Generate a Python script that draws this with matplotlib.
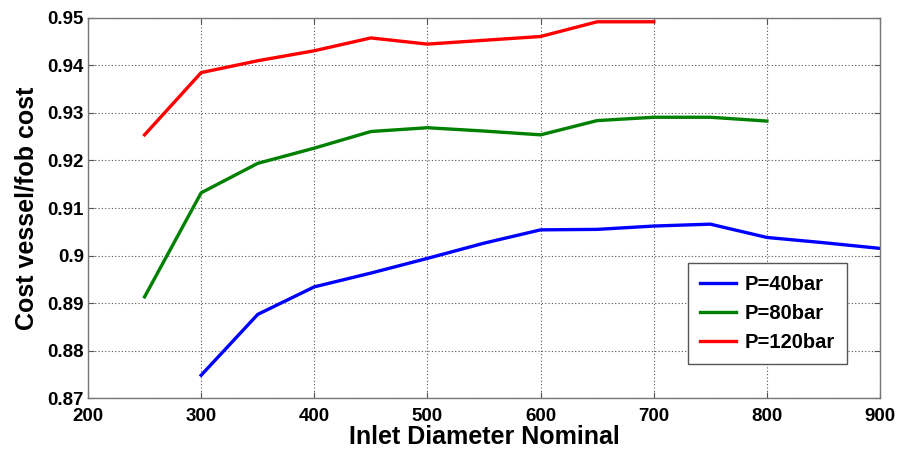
import matplotlib
matplotlib.use("Agg")
import matplotlib.pyplot as plt

plt.rcParams['font.family'] = ['Liberation Sans', 'DejaVu Sans']
plt.rcParams['font.weight'] = 'bold'

# Inlet diameter (nominal) for each pressure series
d_40 = [300, 350, 400, 450, 500, 550, 600, 650, 700, 750, 800, 850, 900]
cost_40 = [0.8748, 0.8876, 0.8934, 0.8963, 0.8994, 0.9026, 0.9054, 0.9055,
           0.9062, 0.9066, 0.9038, 0.9027, 0.9015]

d_80 = [250, 300, 350, 400, 450, 500, 550, 600, 650, 700, 750, 800]
cost_80 = [0.8913, 0.9132, 0.9194, 0.9226, 0.9261, 0.9269, 0.9262, 0.9254,
           0.9284, 0.9291, 0.9291, 0.9283]

d_120 = [250, 300, 350, 400, 450, 500, 550, 600, 650, 700]
cost_120 = [0.9254, 0.9385, 0.9410, 0.9431, 0.9458, 0.9445, 0.9453, 0.9461,
            0.9492, 0.9492]

labels = ['P=40bar', 'P=80bar', 'P=120bar']
colors = ['#0000ff', '#008000', '#ff0000']

x_ticks = [200, 300, 400, 500, 600, 700, 800, 900]
y_ticks = [0.87, 0.88, 0.89, 0.90, 0.91, 0.92, 0.93, 0.94, 0.95]
y_ticklabels = ['0.87', '0.88', '0.89', '0.9', '0.91', '0.92', '0.93', '0.94', '0.95']

fig = plt.figure(figsize=(8.98, 4.54), dpi=100)
ax = fig.add_axes([0.098, 0.1233, 0.882, 0.8371])

for xs, ys, lab, c in zip([d_40, d_80, d_120], [cost_40, cost_80, cost_120], labels, colors):
    ax.plot(xs, ys, color=c, lw=2.4, label=lab)

ax.set_xlim(200, 900)
ax.set_ylim(0.87, 0.95)
ax.set_xticks(x_ticks)
ax.set_yticks(y_ticks)
ax.set_yticklabels(y_ticklabels)
ax.tick_params(direction='in', length=4, labelsize=13.5, color='#555555',
               top=True, right=True, pad=3)
ax.tick_params(axis='x', pad=7)
for lbl in ax.get_xticklabels() + ax.get_yticklabels():
    lbl.set_fontweight('bold')

ax.grid(True, linestyle=(0, (1, 2)), color='#555555', linewidth=0.8)
for s in ax.spines.values():
    s.set_color('#777777')
    s.set_linewidth(1.0)

ax.set_xlabel('Inlet Diameter Nominal', fontsize=18, fontweight='bold', labelpad=0)
ax.set_ylabel('Cost vessel/fob cost', fontsize=18, fontweight='bold', labelpad=6)

leg = ax.legend(loc='upper left', bbox_to_anchor=(0.7576, 0.355),
                prop={'weight': 'bold', 'size': 14.5}, fancybox=False,
                edgecolor='#555555', framealpha=1, handlelength=1.8,
                handletextpad=0.4, borderpad=0.6, labelspacing=0.5,
                borderaxespad=0)
leg.get_frame().set_linewidth(1.0)

fig.savefig('out.png', dpi=100)
